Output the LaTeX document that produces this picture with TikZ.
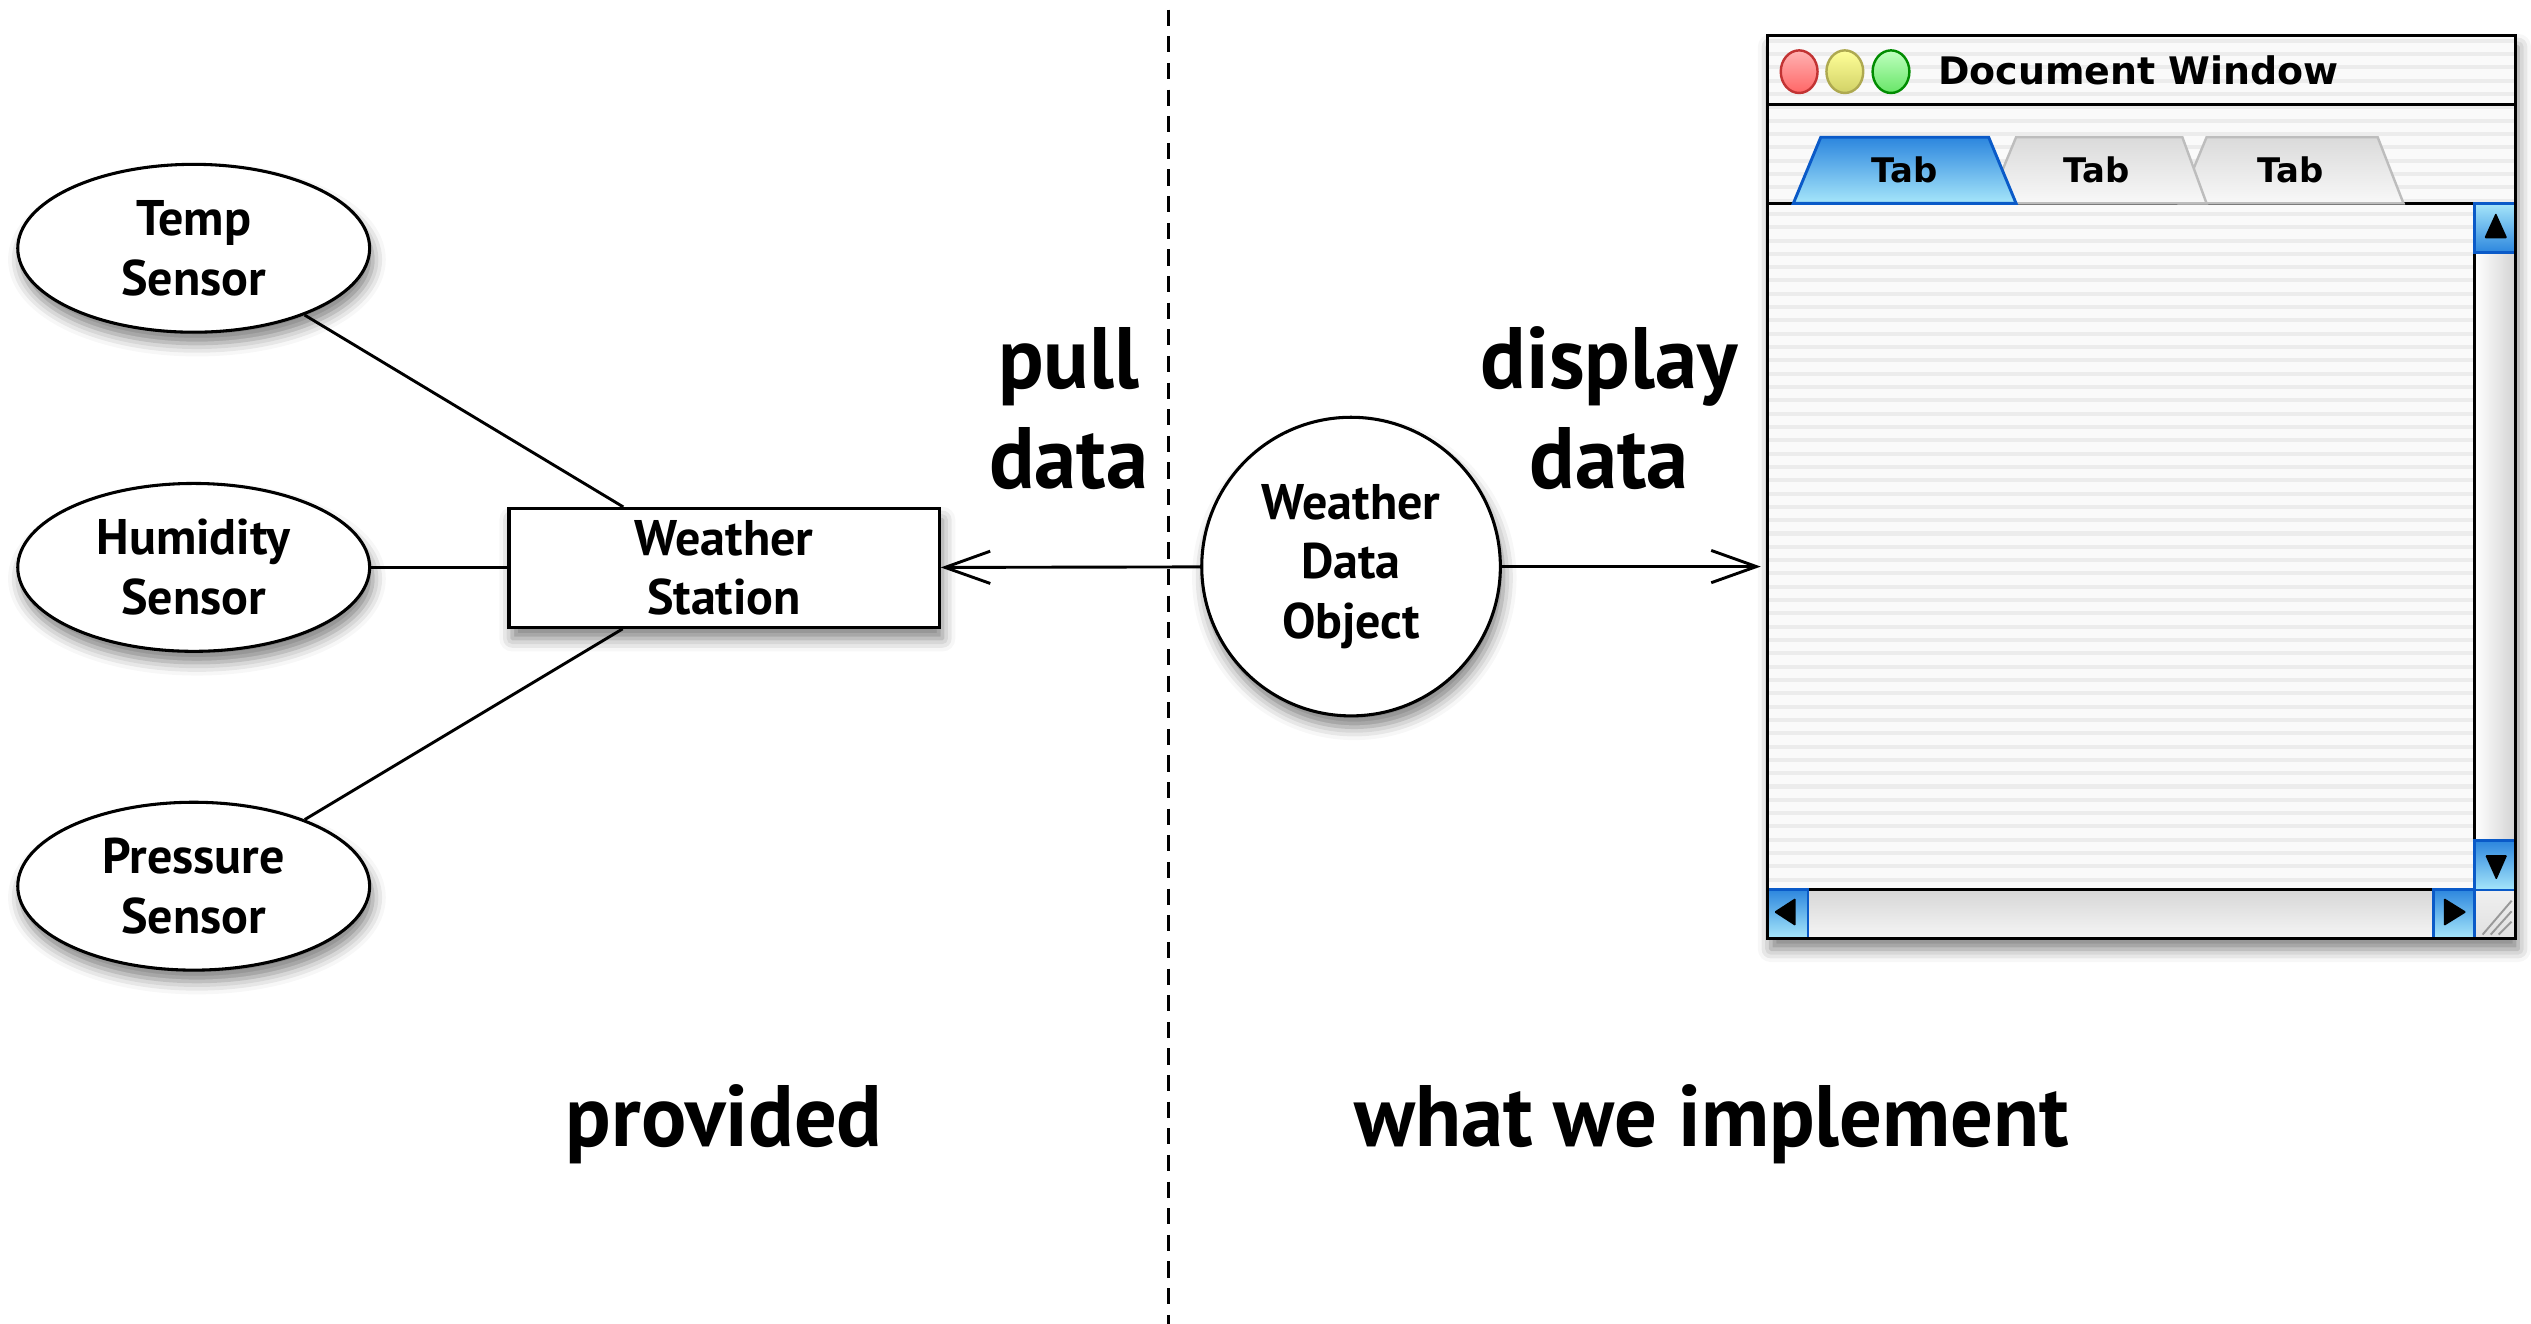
\documentclass[tikz,border=0pt]{standalone}
\usepackage{fontspec}
\setmainfont{PT Sans}
\newfontfamily\bigfont[FakeStretch=0.97]{PT Sans}
\newfontfamily\nodefont{PT Sans}
\newfontfamily\macfont{DejaVu Sans}
\usetikzlibrary{arrows.meta,shadows.blur,shapes.geometric,calc}
\definecolor{bluedark}{HTML}{2C86DE}
\definecolor{bluelight}{HTML}{A6E6FA}
\definecolor{blueborder}{HTML}{0A5AC8}
\definecolor{stripe}{HTML}{ECECEC}
\definecolor{winbg}{HTML}{FAFAFA}
\definecolor{tabtop}{HTML}{DADADA}
\definecolor{tabbot}{HTML}{F8F8F8}
\definecolor{tabborder}{HTML}{BDBDBD}
\begin{document}
\begin{tikzpicture}[x=1pt,y=-1pt,
  shadowed/.style={blur shadow={shadow xshift=2pt,shadow yshift=-7pt,shadow blur radius=8pt,shadow opacity=50}},
  shape line/.style={draw=black,line width=1.9pt,fill=white},
  nodetext/.style={font=\nodefont\bfseries\fontsize{31}{37}\selectfont,align=center,text=black},
  sensor/.style={ellipse,shape line,shadowed,minimum width=218pt,minimum height=104pt,inner sep=0pt,nodetext},
  station/.style={rectangle,shape line,shadowed,minimum width=266.5pt,minimum height=73.6pt,inner sep=0pt,nodetext},
  dataobj/.style={circle,shape line,shadowed,minimum size=185pt,inner sep=0pt,nodetext},
  link/.style={line width=1.8pt,draw=black},
  arr/.style={line width=1.8pt,draw=black,-{Straight Barb[length=28pt,width=20pt]}},
  divider/.style={line width=1.8pt,dash pattern=on 10pt off 6.5pt},
  bigtext/.style={font=\bigfont\bfseries\fontsize{54}{62}\selectfont,align=center,inner sep=0pt},
  macbtn/.style={draw=blueborder,line width=1.5pt},
  tabtext/.style={font=\macfont\bfseries\fontsize{21}{24}\selectfont,inner sep=0pt},
]
\useasboundingbox (0,0) rectangle (1568,820);

% divider
\coordinate (dtop) at (724,6);
\coordinate (dbot) at (724,822);
\draw[divider] (dtop) -- (dbot);

% sensors and station
\node[sensor] (temp) at (120,153.8) {Temp\\Sensor};
\node[sensor] (hum) at (120,351.5) {Humidity\\Sensor};
\node[sensor] (pres) at (120,549) {Pressure\\Sensor};
\node[station] (ws) at (448.6,351.8) {Weather\\Station};
\draw[link] (temp) -- (ws);
\draw[link] (hum) -- (hum -| ws.west);
\draw[link] (pres) -- (ws);

% data object
\node[dataobj] (wdo) at (837,351) {Weather\\Data\\Object};

% window base
\node[rectangle,fill=winbg,shadowed,minimum width=463pt,minimum height=559pt,inner sep=0pt] (win) at (1326.5,301.5) {};
\begin{scope}
  \clip (1095,22) rectangle (1558,581);
  \foreach \yy in {24,32.25,...,580} {\fill[stripe] (1095,\yy) rectangle (1558,\yy+2.5);}
\end{scope}
% title separator
\draw[line width=2pt] (1095,64.5) -- (1558,64.5);
% tab base line
\draw[line width=2pt] (1095,126) -- (1533,126);
% tabs
\draw[tabborder,line width=1.5pt,top color=tabtop,bottom color=tabbot] (1350,126) -- (1367,85) -- (1473,85) -- (1489,126) -- cycle;
\draw[tabborder,line width=1.5pt,top color=tabtop,bottom color=tabbot] (1232,126) -- (1249,85) -- (1352,85) -- (1367,126) -- cycle;
\draw[blueborder,line width=1.8pt,top color=bluedark,bottom color=bluelight] (1111,126) -- (1128,85) -- (1232,85) -- (1249,126) -- cycle;
\node[tabtext] (tabA) at (1180,105) {Tab};
\node[tabtext] (tabB) at (1299,105) {Tab};
\node[tabtext] (tabC) at (1419,105) {Tab};

% scroll tracks
\shade[left color=white,right color=black!17] (1533,126) rectangle (1558,551);
\shade[top color=black!16,bottom color=black!4] (1095,551) rectangle (1533,581);
\shade[top color=black!6,bottom color=black!12] (1533,551) rectangle (1558,581);
\draw[line width=2pt] (1533,126) -- (1533,551);
\draw[line width=2pt] (1095,551) -- (1533,551);
% buttons
\draw[macbtn,top color=bluelight,bottom color=bluedark] (1533,126) rectangle (1558,156.5);
\draw[macbtn,top color=bluedark,bottom color=bluelight] (1533,520.8) rectangle (1558,551.5);
\draw[macbtn,top color=bluedark,bottom color=bluelight] (1095,551) rectangle (1120,581);
\draw[macbtn,top color=bluedark,bottom color=bluelight] (1507.5,551) rectangle (1533,581);
\fill[black,rounded corners=0.8pt] (1539,147.6) -- (1553.3,147.6) -- (1546.2,131.8) -- cycle;
\fill[black,rounded corners=0.8pt] (1539.6,529.7) -- (1553.3,529.7) -- (1546.5,545.2) -- cycle;
\fill[black,rounded corners=0.8pt] (1112.4,556.3) -- (1112.4,573.7) -- (1099,565) -- cycle;
\fill[black,rounded corners=0.8pt] (1514,556.3) -- (1514,573.7) -- (1528,565) -- cycle;
% grip
\draw[black!40,line width=1.2pt] (1538,579) -- (1556,558) (1543,579) -- (1556,564.5) (1548,579) -- (1556,571);

% traffic lights
\draw[line width=1.5pt,draw=red!70!black!80,top color=red!30!white,bottom color=red!60!white] (1114.6,44.4) ellipse (11.4pt and 13.2pt);
\draw[line width=1.5pt,draw=yellow!60!black!90,top color=yellow!40!white,bottom color=yellow!70!black!60!white] (1142.9,44.4) ellipse (11.4pt and 13.2pt);
\draw[line width=1.5pt,draw=green!55!black,top color=green!25!white,bottom color=green!55!white!90!black] (1171.5,44.4) ellipse (11.4pt and 13.2pt);
\node[anchor=west,inner sep=0pt,font=\macfont\bfseries\fontsize{23.5}{28}\selectfont] (title) at (1200.5,43.5) {Document Window};

% window border
\draw[line width=2pt] (win.north west) rectangle (win.south east);

% arrows
\draw[arr] (wdo) -- (ws);
\draw[arr,shorten >=4pt] (wdo.east) -- (wdo.east -| win.west);

% big labels
\node[bigtext] (pull) at (662,253) {pull\\data};
\node[bigtext] (disp) at (997,253) {display\\data};
\node[bigtext,anchor=base] (prov) at (448.6,710) {provided};
\node[bigtext,anchor=base] (impl) at (1060.5,710) {what we implement};
\end{tikzpicture}
\end{document}
